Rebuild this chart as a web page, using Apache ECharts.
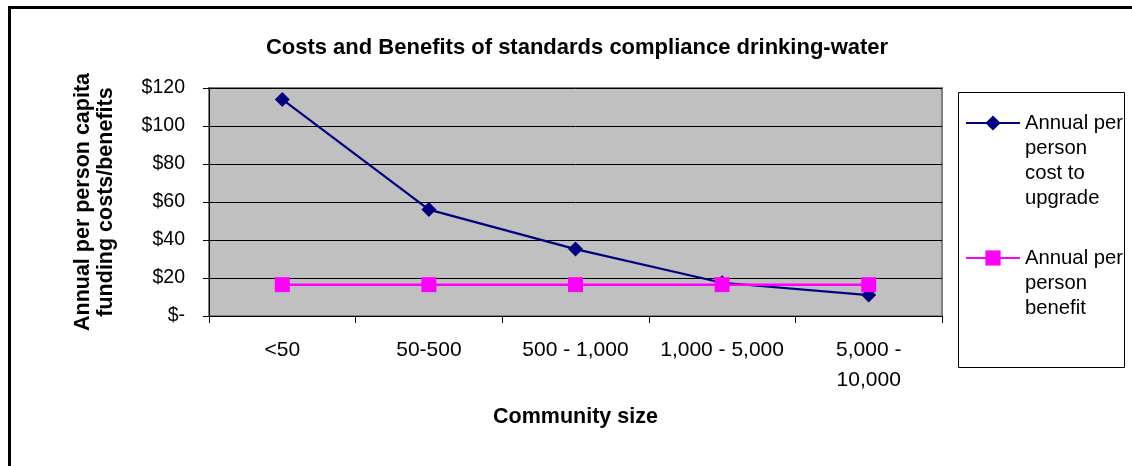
<!DOCTYPE html>
<html>
<head>
<meta charset="utf-8">
<script src="https://cdn.jsdelivr.net/npm/echarts@6/dist/echarts.min.js"></script>
<style>
  html, body { margin: 0; padding: 0; background: #ffffff; }
  #chart { width: 1132px; height: 466px; }
</style>
</head>
<body>
<div id="chart"></div>
<script>
// Community size bands
const categories = ['<50', '50-500', '500 - 1,000', '1,000 - 5,000', '5,000 -\n10,000'];
// Annual per person cost to upgrade ($)
const costValues = [114, 56, 35.2, 17.5, 11];
// Annual per person benefit ($)
const benefitValues = [16.5, 16.5, 16.5, 16.5, 16.5];
// Y axis range
const yMin = 0, yMax = 120, yStep = 20;

const costName = 'Annual per\nperson\ncost to\nupgrade';
const benefitName = 'Annual per\nperson\nbenefit';

const FONT = 'Arial, "Liberation Sans", sans-serif';
const LEGEND_LH = 25.3;

// Legend text is centred on its icon; pad with leading blank lines so the
// icon lines up with the first text line instead.
function alignFirstLine(name) {
  const n = name.split('\n').length;
  return '\n'.repeat(n - 1) + name;
}

const chart = echarts.init(document.getElementById('chart'), null, { renderer: 'canvas' });

chart.setOption({
  animation: false,
  backgroundColor: '#ffffff',
  title: {
    text: 'Costs and Benefits of standards compliance drinking-water',
    left: 572,
    top: 31.5,
    textAlign: 'center',
    textStyle: { fontFamily: FONT, fontSize: 22, fontWeight: 'bold', color: '#000' }
  },
  graphic: [
    // outer frame of the chart area
    { type: 'rect', silent: true, z: 100,
      shape: { x: 9.5, y: 7.5, width: 1200, height: 600 },
      style: { fill: null, stroke: '#000', lineWidth: 3 } },
    // legend box
    { type: 'rect', silent: true, z: 100,
      shape: { x: 958.5, y: 92.5, width: 166, height: 275 },
      style: { fill: null, stroke: '#000', lineWidth: 1 } }
  ],
  legend: [
    {
      left: 965,
      top: 123 - 3.5 * LEGEND_LH,
      orient: 'vertical',
      padding: 0,
      itemWidth: 54,
      itemHeight: 19,
      itemGap: 0,
      data: [{ name: costName }],
      formatter: alignFirstLine,
      textStyle: { fontFamily: FONT, fontSize: 20.3, color: '#000', lineHeight: LEGEND_LH }
    },
    {
      left: 965,
      top: 258 - 2.5 * LEGEND_LH,
      orient: 'vertical',
      padding: 0,
      itemWidth: 54,
      itemHeight: 19,
      itemGap: 0,
      data: [{ name: benefitName }],
      formatter: alignFirstLine,
      textStyle: { fontFamily: FONT, fontSize: 20.3, color: '#000', lineHeight: LEGEND_LH }
    }
  ],
  grid: {
    left: 209,
    right: 190,
    top: 88,
    bottom: 150,
    show: true,
    backgroundColor: '#c0c0c0',
    borderColor: '#808080',
    borderWidth: 2,
    containLabel: false
  },
  xAxis: {
    type: 'category',
    data: categories,
    boundaryGap: true,
    name: 'Community size',
    nameLocation: 'middle',
    nameGap: 90,
    nameTextStyle: { fontFamily: FONT, fontSize: 21.5, fontWeight: 'bold', color: '#000' },
    axisLine: { lineStyle: { color: '#000', width: 1 } },
    axisTick: { show: true, length: 7, lineStyle: { color: '#000' } },
    axisLabel: { fontFamily: FONT, fontSize: 21, color: '#000', margin: 19.5, lineHeight: 30, interval: 0 },
    splitLine: { show: false }
  },
  yAxis: {
    type: 'value',
    min: yMin,
    max: yMax,
    interval: yStep,
    name: 'Annual per person capita\nfunding costs/benefits',
    nameLocation: 'middle',
    nameGap: 91,
    nameTextStyle: { fontFamily: FONT, fontSize: 21.5, fontWeight: 'bold', color: '#000', lineHeight: 23.5 },
    axisLine: { show: true, lineStyle: { color: '#000', width: 1 } },
    axisTick: { show: true, length: 6, lineStyle: { color: '#000' } },
    axisLabel: {
      fontFamily: FONT, fontSize: 19.5, color: '#000', margin: 24,
      formatter: v => (v === 0 ? '$-' : '$' + v)
    },
    splitLine: { show: true, lineStyle: { color: '#000', width: 1 } }
  },
  series: [
    {
      name: costName,
      type: 'line',
      data: costValues,
      symbol: 'diamond',
      symbolSize: [15, 15],
      color: '#000080',
      lineStyle: { color: '#000080', width: 2.2 },
      itemStyle: { color: '#000080' },
      z: 3
    },
    {
      name: benefitName,
      type: 'line',
      data: benefitValues,
      symbol: 'rect',
      symbolSize: 15,
      color: '#ff00ff',
      lineStyle: { color: '#ff00ff', width: 2.5 },
      itemStyle: { color: '#ff00ff' },
      z: 4
    }
  ]
});
</script>
</body>
</html>
